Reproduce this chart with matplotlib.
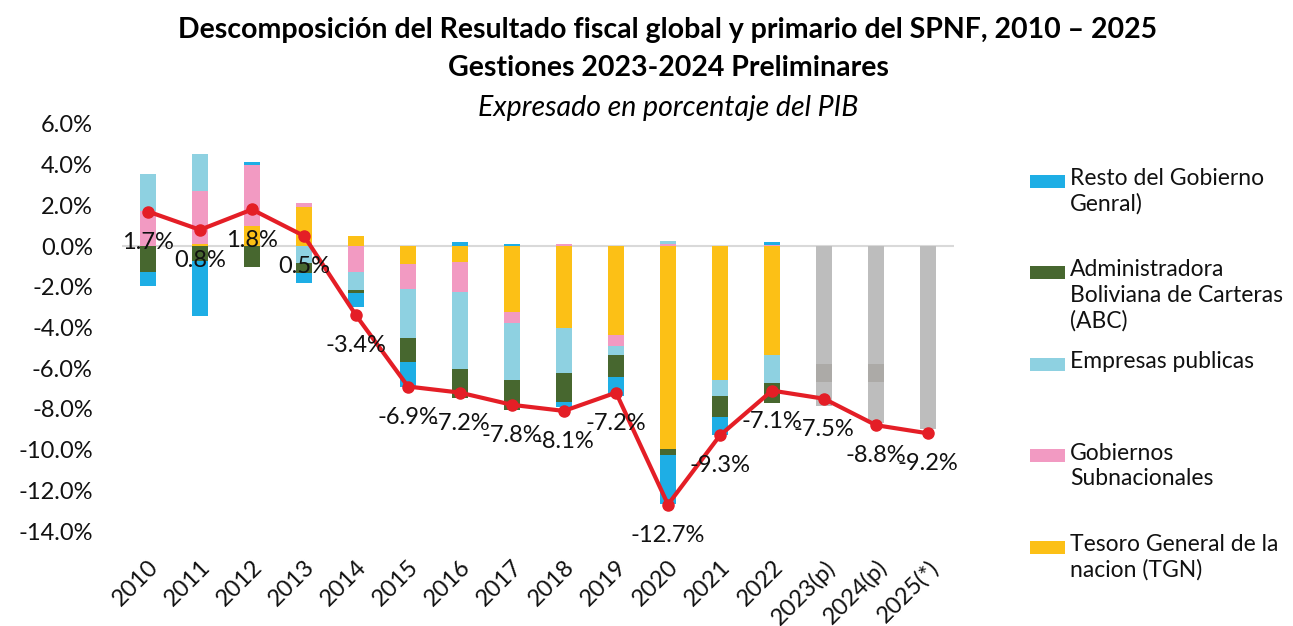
import numpy as np
import matplotlib
matplotlib.use("Agg")
import matplotlib.pyplot as plt
from matplotlib.patches import Rectangle

plt.rcParams["font.family"] = ["Lato", "DejaVu Sans"]

# data (% of GDP)
years = ["2010", "2011", "2012", "2013", "2014", "2015", "2016", "2017", "2018",
         "2019", "2020", "2021", "2022", "2023(p)", "2024(p)", "2025(*)"]
tgn = [0.00, 0.08, 0.98, 1.92, 0.49, -0.90, -0.80, -3.25, -4.03, -4.36, -9.96, -6.58, -5.36, -5.80, -5.80, -8.98]
gob = [1.72, 2.62, 3.00, 0.20, -1.28, -1.20, -1.47, -0.52, 0.10, -0.54, 0.10, 0.00, 0.05, 0.00, 0.00, 0.00]
emp = [1.80, 1.85, 0.00, -0.82, -0.88, -2.41, -3.77, -2.79, -2.21, -0.44, 0.13, -0.79, -1.36, 0.00, 0.00, 0.00]
abc = [-1.28, -0.73, -1.02, -0.49, -0.13, -1.18, -1.44, -1.49, -1.44, -1.11, -0.30, -1.03, -0.98, -0.90, -0.90, 0.00]
resto = [-0.69, -2.70, 0.15, -0.49, -0.70, -1.23, 0.20, 0.10, -0.25, -0.90, -2.41, -0.88, 0.15, -1.15, -1.97, 0.00]
total = [1.7, 0.8, 1.8, 0.5, -3.4, -6.9, -7.2, -7.8, -8.1, -7.2, -12.7, -9.3, -7.1, -7.5, -8.8, -9.2]
projected = [False] * 13 + [True] * 3

# stacking order from zero outward (Excel series order)
series = [("Tesoro General de la\nnacion (TGN)", tgn, "#fcc016", "#bdbdbd"),
          ("Gobiernos\nSubnacionales", gob, "#f29ac2", "#bdbdbd"),
          ("Empresas publicas", emp, "#8ed1e1", "#bdbdbd"),
          ("Administradora\nBoliviana de Carteras\n(ABC)", abc, "#47672f", "#acaaa7"),
          ("Resto del Gobierno\nGenral)", resto, "#1eaee5", "#bdbdbd")]

fig = plt.figure(figsize=(12.93, 6.26), dpi=100)
ax = fig.add_axes([122 / 1293, 1 - 531 / 626, (954 - 122) / 1293, (531 - 124) / 626])

x = np.arange(len(years))
pos = np.zeros(len(years)); neg = np.zeros(len(years))
for name, vals, col, gcol in series:
    v = np.array(vals)
    cols = [gcol if p else col for p in projected]
    bottom = np.where(v >= 0, pos, neg)
    ax.bar(x, v, 0.31, bottom=bottom, color=cols, linewidth=0, zorder=2)
    pos = pos + np.clip(v, 0, None); neg = neg + np.clip(v, None, 0)

ax.axhline(0, color="#d9d9d9", lw=1.5, zorder=1)
ax.plot(x, total, color="#e41e26", lw=3, marker="o", ms=8, zorder=4)
for xi, t in zip(x, total):
    ax.annotate(f"{t:.1f}%", (xi, t), xytext=(0, -22), textcoords="offset points",
                ha="center", va="center", fontsize=17, color="#111", zorder=5)

ax.set_xlim(-0.5, len(years) - 0.5)
ax.set_ylim(-14, 6)
ax.set_yticks(np.arange(-14, 7, 2))
ax.set_yticklabels([f"{t:.1f}%" for t in np.arange(-14, 7, 2)], fontsize=17)
ax.set_xticks(x)
ax.set_xticklabels(years, rotation=45, ha="right", rotation_mode="anchor", fontsize=17)
ax.tick_params(length=0, colors="#111")
ax.tick_params(axis="y", pad=21)
ax.tick_params(axis="x", pad=18)
for s in ax.spines.values():
    s.set_visible(False)

# legend drawn by hand to keep Excel's even spacing
for k, (name, vals, col, gcol) in enumerate(series[::-1]):
    yc = 181 + k * 91.5
    fig.patches.append(Rectangle((1030 / 1293, 1 - (yc + 6.5) / 626), 35 / 1293, 13 / 626,
                                 transform=fig.transFigure, facecolor=col, edgecolor="none"))
    fig.text(1070 / 1293, 1 - (yc - 13) / 626, name, ha="left", va="top", fontsize=16.5,
             linespacing=1.25, color="#111")

fig.text(668 / 1293, 1 - 30 / 626, "Descomposición del Resultado fiscal global y primario del SPNF, 2010 – 2025",
         ha="center", va="center", fontsize=20.5, fontweight="bold")
fig.text(668 / 1293, 1 - 68 / 626, "Gestiones 2023-2024 Preliminares",
         ha="center", va="center", fontsize=20.5, fontweight="bold")
fig.text(668 / 1293, 1 - 108 / 626, "Expresado en porcentaje del PIB",
         ha="center", va="center", fontsize=20.5, style="italic")

fig.savefig("out.png", dpi=100)
